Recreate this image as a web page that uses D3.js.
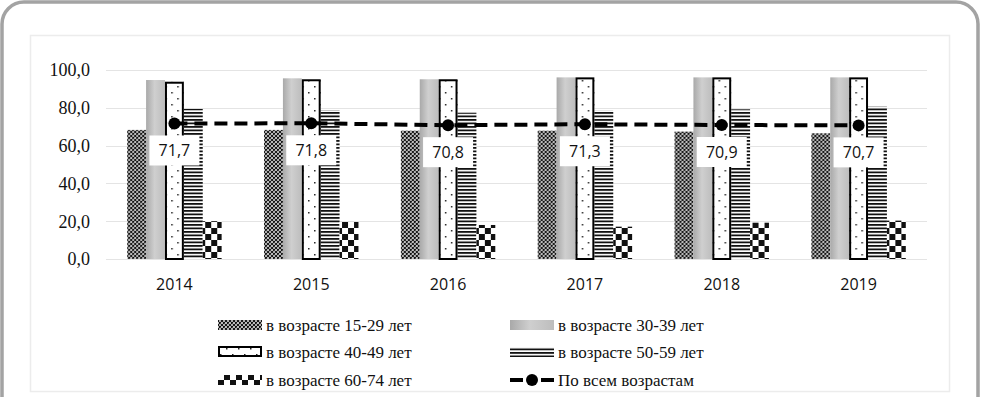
<!DOCTYPE html>
<html>
<head>
<meta charset="utf-8">
<script src="https://cdn.jsdelivr.net/npm/d3@7"></script>
<style>
  body { margin: 0; background: #fff; }
  svg { display: block; }
  .serif { font-family: "Liberation Serif", "Times New Roman", serif; }
  .sans { font-family: "Open Sans", "Liberation Sans", sans-serif; }
</style>
</head>
<body>
<svg id="chart" width="981" height="397"></svg>
<script>
// data
const years = ["2014", "2015", "2016", "2017", "2018", "2019"];
const groups = ["g1529", "g3039", "g4049", "g5059", "g6074"];
const groupNames = ["в возрасте 15-29 лет", "в возрасте 30-39 лет", "в возрасте 40-49 лет",
                    "в возрасте 50-59 лет", "в возрасте 60-74 лет"];
const age1529 = [68.3, 68.3, 67.9, 67.9, 67.4, 66.5];
const age3039 = [94.7, 95.6, 95.1, 96.1, 96.1, 96.1];
const age4049 = [93.8, 95.1, 95.1, 96.1, 96.1, 96.1];
const age5059 = [79.4, 78.8, 77.4, 78.5, 79.2, 80.6];
const age6074 = [20.0, 19.6, 18.0, 17.1, 19.2, 20.3];
const allAges = [71.7, 71.8, 70.8, 71.3, 70.9, 70.7];
const allAgesName = "По всем возрастам";
const yTicks = [0, 20, 40, 60, 80, 100];

const seriesVals = [age1529, age3039, age4049, age5059, age6074];

const svg = d3.select("#chart");
const defs = svg.append("defs");

// frame + inner chart box
svg.append("rect")
  .attr("x", 2).attr("y", 2).attr("width", 976).attr("height", 430)
  .attr("rx", 22).attr("ry", 22)
  .attr("fill", "none").attr("stroke", "#a3a3a3").attr("stroke-width", 3.5);
svg.append("rect")
  .attr("x", 30.5).attr("y", 35.5).attr("width", 919).attr("height", 356)
  .attr("fill", "#fff").attr("stroke", "#ececec").attr("stroke-width", 1.5);

// ---- patterns ----
let p = defs.append("pattern").attr("id", "pat1529")
  .attr("patternUnits", "userSpaceOnUse").attr("width", 4).attr("height", 4);
p.append("rect").attr("width", 4).attr("height", 4).attr("fill", "#fff");
p.append("path").attr("d", "M0,0L4,4M4,0L0,4M-1,3L1,5M3,-1L5,1M-1,1L1,-1M3,5L5,3")
  .attr("stroke", "#111").attr("stroke-width", 1.2);

let g = defs.append("linearGradient").attr("id", "grad3039")
  .attr("x1", "0%").attr("x2", "100%").attr("y1", "0%").attr("y2", "0%");
g.append("stop").attr("offset", "0%").attr("stop-color", "#a9a9a9");
g.append("stop").attr("offset", "45%").attr("stop-color", "#cfcfcf");
g.append("stop").attr("offset", "100%").attr("stop-color", "#bdbdbd");

p = defs.append("pattern").attr("id", "pat4049")
  .attr("patternUnits", "userSpaceOnUse").attr("width", 12).attr("height", 12);
p.append("rect").attr("width", 12).attr("height", 12).attr("fill", "#fff");
p.append("rect").attr("x", 2).attr("y", 2).attr("width", 1.5).attr("height", 1.5).attr("fill", "#222");
p.append("rect").attr("x", 8).attr("y", 8).attr("width", 1.5).attr("height", 1.5).attr("fill", "#222");

p = defs.append("pattern").attr("id", "pat5059")
  .attr("patternUnits", "userSpaceOnUse").attr("width", 4).attr("height", 3.5);
p.append("rect").attr("width", 4).attr("height", 3.5).attr("fill", "#fff");
p.append("rect").attr("width", 4).attr("height", 1.8).attr("fill", "#111");

p = defs.append("pattern").attr("id", "pat6074")
  .attr("patternUnits", "userSpaceOnUse").attr("width", 12).attr("height", 12);
p.append("rect").attr("width", 12).attr("height", 12).attr("fill", "#fff");
p.append("rect").attr("width", 6).attr("height", 6).attr("fill", "#111");
p.append("rect").attr("x", 6).attr("y", 6).attr("width", 6).attr("height", 6).attr("fill", "#111");

const fills = {
  g1529: "url(#pat1529)", g3039: "url(#grad3039)", g4049: "url(#pat4049)",
  g5059: "url(#pat5059)", g6074: "url(#pat6074)"
};

// ---- scales ----
const x0 = d3.scaleBand().domain(years).range([106, 927])
  .paddingInner(0.31).paddingOuter(0.155);
const x1 = d3.scaleBand().domain(groups).range([0, x0.bandwidth()]);
const y = d3.scaleLinear().domain([0, 100]).range([259, 70]);

// gridlines
svg.append("g").selectAll("line").data(yTicks).join("line")
  .attr("x1", 106).attr("x2", 927)
  .attr("y1", d => Math.round(y(d)) + 0.5).attr("y2", d => Math.round(y(d)) + 0.5)
  .attr("stroke", "#e4e4e4").attr("stroke-width", 1);

// y axis labels
svg.append("g").selectAll("text").data(yTicks).join("text")
  .attr("class", "serif")
  .attr("x", 90).attr("y", d => y(d)).attr("dy", "0.35em")
  .attr("text-anchor", "end")
  .style("font-size", "18px").attr("fill", "#111")
  .text(d => d3.format(".1f")(d).replace(".", ","));

// x axis labels
svg.append("g").selectAll("text").data(years).join("text")
  .attr("class", "sans")
  .attr("x", d => x0(d) + x0.bandwidth() / 2).attr("y", 284).attr("dy", "0.35em")
  .attr("text-anchor", "middle")
  .style("font-size", "16px").attr("fill", "#111")
  .text(d => d);

// bars
const yearG = svg.append("g").selectAll("g").data(years).join("g")
  .attr("transform", d => `translate(${x0(d)},0)`);

yearG.selectAll("rect")
  .data((d, i) => groups.map((k, j) => ({ key: k, value: seriesVals[j][i] })))
  .join("rect")
    .attr("x", d => x1(d.key))
    .attr("y", d => y(d.value))
    .attr("width", x1.bandwidth())
    .attr("height", d => y(0) - y(d.value))
    .attr("fill", d => fills[d.key]);

// black outline on the 40-49 bars
yearG.append("rect")
  .attr("x", x1("g4049") + 1)
  .attr("y", (d, i) => y(age4049[i]) + 1)
  .attr("width", x1.bandwidth() - 2)
  .attr("height", (d, i) => y(0) - y(age4049[i]) - 1)
  .attr("fill", "none").attr("stroke", "#000").attr("stroke-width", 2);

// all-ages line
const cx = d => x0(d) + x0.bandwidth() / 2;
const line = d3.line().x((d, i) => cx(years[i])).y(d => y(d));
svg.append("path").datum(allAges)
  .attr("d", line)
  .attr("fill", "none").attr("stroke", "#000")
  .attr("stroke-width", 4).attr("stroke-dasharray", "13,7");
svg.append("g").selectAll("circle").data(allAges).join("circle")
  .attr("cx", (d, i) => cx(years[i])).attr("cy", d => y(d)).attr("r", 6)
  .attr("fill", "#000");

// data labels
const lbl = svg.append("g").selectAll("g").data(allAges).join("g")
  .attr("transform", (d, i) => `translate(${cx(years[i])},${y(d) + 27})`);
lbl.append("rect")
  .attr("x", -25).attr("y", -15).attr("width", 50).attr("height", 30)
  .attr("fill", "#fff");
lbl.append("text")
  .attr("class", "sans")
  .attr("text-anchor", "middle").attr("dy", "0.36em")
  .style("font-size", "16px").attr("fill", "#111")
  .text(d => d3.format(".1f")(d).replace(".", ","));

// ---- legend ----
const legendItems = [
  { key: "g1529", name: groupNames[0], col: 0, row: 0 },
  { key: "g3039", name: groupNames[1], col: 1, row: 0 },
  { key: "g4049", name: groupNames[2], col: 0, row: 1 },
  { key: "g5059", name: groupNames[3], col: 1, row: 1 },
  { key: "g6074", name: groupNames[4], col: 0, row: 2 },
  { key: "line", name: allAgesName, col: 1, row: 2 }
];
const colX = [218, 510];
const rowY = [325, 352, 380];

const leg = svg.append("g").selectAll("g").data(legendItems).join("g")
  .attr("transform", d => `translate(${colX[d.col]},${rowY[d.row]})`);

leg.each(function(d) {
  const s = d3.select(this);
  if (d.key === "line") {
    s.append("line").attr("x1", 0).attr("x2", 13).attr("y1", 0).attr("y2", 0)
      .attr("stroke", "#000").attr("stroke-width", 4);
    s.append("line").attr("x1", 31).attr("x2", 44).attr("y1", 0).attr("y2", 0)
      .attr("stroke", "#000").attr("stroke-width", 4);
    s.append("circle").attr("cx", 22).attr("cy", 0).attr("r", 6).attr("fill", "#000");
  } else if (d.key === "g4049") {
    s.append("rect").attr("x", 1).attr("y", -5).attr("width", 42).attr("height", 9)
      .attr("fill", fills[d.key]).attr("stroke", "#000").attr("stroke-width", 2);
  } else {
    s.append("rect").attr("x", 0).attr("y", -5).attr("width", 44).attr("height", 10)
      .attr("fill", fills[d.key]);
  }
  s.append("text").attr("class", "serif").attr("x", 48).attr("dy", "0.35em")
    .style("font-size", "17px").attr("fill", "#111")
    .text(d.name);
});
</script>
</body>
</html>
